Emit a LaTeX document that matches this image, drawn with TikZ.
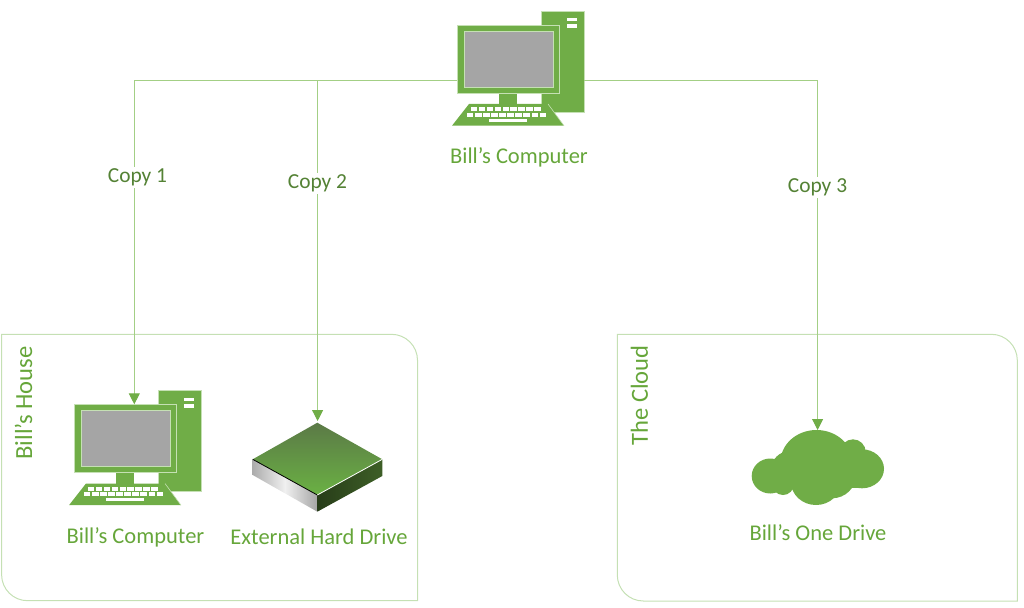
\documentclass[tikz,border=0pt]{standalone}
\usepackage{fontspec}
\setmainfont{Carlito}
\usetikzlibrary{arrows.meta}
\definecolor{gmain}{HTML}{70AD47}
\definecolor{gcap}{HTML}{66A63A}
\definecolor{gline}{HTML}{A3CF85}
\definecolor{gedge}{HTML}{C5E0B4}
\definecolor{gtext}{HTML}{548235}
\definecolor{gscreen}{HTML}{A5A5A5}
\tikzset{
  x=1pt,y=-1pt,
  compart/.style={draw=gedge,line width=1pt},
  conn/.style={draw=gline,line width=1pt},
  arrowed/.style={-{Triangle[length=11pt,width=11pt,fill=gmain,color=gmain]}},
  caption/.style={text=gcap,font=\fontsize{22.5}{25}\selectfont,inner sep=0pt},
  sidetitle/.style={text=gcap,font=\fontsize{24.6}{27}\selectfont,inner sep=0pt,rotate=90},
  copylabel/.style={text=gtext,fill=white,font=\fontsize{21.4}{24}\selectfont,inner sep=2pt},
  pcpart/.style={fill=gmain,draw=gedge,line width=0.8pt},
  keycap/.style={fill=white,draw=none},
  computer/.pic={
    \path[pcpart] (541.5,11) rectangle (584,112);
    \path[keycap] (567,18) rectangle (577,21.2);
    \path[keycap] (567,24.3) rectangle (577,28);
    \path[fill=gmain] (499,92) rectangle (517,105);
    \path[fill=gmain] (469,104) -- (548,104) -- (564,125.7) -- (452,125.7) -- cycle;
    \draw[gedge,line width=0.6pt] (548,104) -- (564,125.7);
    \foreach \i in {0,...,8}{\path[keycap] ({470.7+\i*7.95},107.5) rectangle ++(6.5,3.8);}
    \foreach \i in {0,...,9}{\path[keycap] ({466.7+\i*8.1},112.8) rectangle ++(6.7,3.8);}
    \path[keycap] (489.3,118.5) rectangle (526.7,121.7);
    \node[pcpart,minimum width=102.5pt,minimum height=68pt,inner sep=0pt] (-mon) at (508.5,59) {};
    \node[draw=gedge,fill=gscreen,line width=0.8pt,minimum width=89.5pt,minimum height=56pt,inner sep=0pt] (-screen) at (509,59) {};
  }
}
\begin{document}
\begin{tikzpicture}
\useasboundingbox (0,0) rectangle (1024,607);
% containers
\draw[compart] (1.6,334.3) -- (391.5,334.3) arc[start angle=90,end angle=0,x radius=26,y radius=-26] -- (417.5,600.7) -- (27.6,600.7) arc[start angle=270,end angle=180,x radius=26,y radius=-26] -- cycle;
\draw[compart] (617.3,334.3) -- (991.3,334.3) arc[start angle=90,end angle=0,x radius=26,y radius=-26] -- (1017.3,601) -- (643.3,601) arc[start angle=270,end angle=180,x radius=26,y radius=-26] -- cycle;
\node[sidetitle] (house) at (23.5,403) {Bill’s House};
\node[sidetitle] (cloudtitle) at (639.5,395.5) {The Cloud};
% computers
\pic (top) at (0,0) {computer};
\pic (home) at (-383,379.5) {computer};
\node[caption] (topcap) at (519,157.5) {Bill’s Computer};
\node[caption] (homecap) at (135.5,537) {Bill’s Computer};
% hard drive
\shade[left color=gray!65!white,right color=gray!70!white,middle color=white!88!gray] (252.7,459.3) -- (317.3,495) -- (317.3,511.7) -- (252.7,475) -- cycle;
\shade[left color=black!65!gmain,right color=black!45!gmain] (317.3,495) -- (382.3,459.3) -- (382.3,476) -- (317.3,511.7) -- cycle;
\shade[top color=black!45!gray!50!gmain,bottom color=gmain!95!green] (317.3,422.7) -- (382.3,459.3) -- (317.3,495) -- (252.7,459.3) -- cycle;
\draw[black,line width=0.8pt] (252.7,459.3) -- (317.3,495);
\draw[white,line width=0.8pt] (317.3,495) -- (382.3,459.3);
\node[caption] (drivecap) at (319,536.5) {External Hard Drive};
\coordinate (drive) at (317.6,421);
% cloud
\fill[gmain]
  (770.2,476) ellipse[x radius=18.5,y radius=17.5]
  (816.5,462) ellipse[x radius=36,y radius=32]
  (853,452) circle[radius=12.7]
  (862,468.8) ellipse[x radius=22,y radius=19.5]
  (816,482) ellipse[x radius=25,y radius=23]
  (832,475) ellipse[x radius=24,y radius=23.3]
  (783,484) circle[radius=11]
  (790,470) circle[radius=19];
\fill[gmain] (770,465) rectangle (866,488);
\coordinate (cloud) at (817.6,430);
\node[caption] (cloudcap) at (818,532.5) {Bill’s One Drive};
% connectors
\coordinate (busleft) at (457,80.5);
\coordinate (busright) at (584,80.5);
\coordinate (drop1) at (134.3,80.5);
\coordinate (drop2) at (317.6,80.5);
\coordinate (drop3) at (817.6,80.5);
\coordinate (hometip) at (134.3,404.3);
\draw[conn] (busleft) -- (drop1);
\draw[conn,arrowed] (drop1) -- (hometip);
\draw[conn,arrowed] (drop2) -- (drive);
\draw[conn] (busright) -- (drop3);
\draw[conn,arrowed] (drop3) -- (cloud);
\node[copylabel] (copya) at (137.5,177.5) {Copy 1};
\node[copylabel] (copyb) at (317.5,183.5) {Copy 2};
\node[copylabel] (copyc) at (817.5,187.5) {Copy 3};
\end{tikzpicture}
\end{document}
